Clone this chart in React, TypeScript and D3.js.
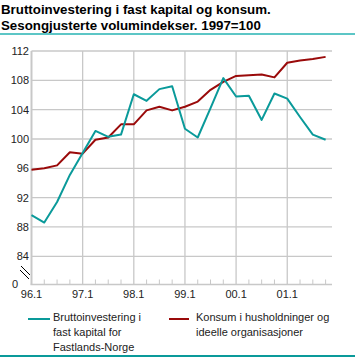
import React from "react";
import * as d3 from "d3";

const quarters = ["96.1","96.2","96.3","96.4","97.1","97.2","97.3","97.4","98.1","98.2","98.3","98.4","99.1","99.2","99.3","99.4","00.1","00.2","00.3","00.4","01.1","01.2","01.3","01.4"];
const investering = [89.6,88.6,91.4,95.1,98.1,101.1,100.3,100.6,106.1,105.2,106.8,107.2,101.4,100.2,104.2,108.3,105.8,105.9,102.6,106.2,105.5,103.0,100.6,99.9];
const konsum = [95.8,96.0,96.4,98.2,98.0,99.9,100.2,102.0,102.0,103.9,104.4,103.9,104.4,105.1,106.7,107.8,108.6,108.7,108.8,108.4,110.4,110.7,110.9,111.2];
const yTicks = [84,88,92,96,100,104,108,112];
const yearLabels = ["96.1","97.1","98.1","99.1","00.1","01.1"];
const seriesNames = [["Bruttoinvestering i","fast kapital for","Fastlands-Norge"],["Konsum i husholdninger og","ideelle organisasjoner"]];
const titleLines = ["Bruttoinvestering i fast kapital og konsum.","Sesongjusterte volumindekser. 1997=100"];

const TEAL = "#0a9a9a";
const RED = "#9a0a0a";
const GRID = "#c8c8c8";
const FONT = "'Liberation Sans', Arial, sans-serif";

export default function App() {
  const x = d3.scaleLinear().domain([0, 23.5]).range([31.5, 332]);
  const y = d3.scaleLinear().domain([84, 112]).range([256.3, 51]);
  const zeroY = 284.5;
  const line = d3.line<number>().x((_, i) => x(i)).y((v) => y(v));
  return (
    <svg width={355} height={357} style={{ position: "absolute", left: 0, top: 0 }} fontFamily={FONT}>
      {titleLines.map((t, i) => (
        <text key={i} x={1} y={14 + i * 16} fontSize={13.3} fontWeight="bold" fill="#000">{t}</text>
      ))}
      <line x1={0} x2={355} y1={34} y2={34} stroke="#5cc6c6" strokeWidth={2} />
      {yTicks.map((t) => (
        <g key={t}>
          <line x1={31.5} x2={332} y1={y(t)} y2={y(t)} stroke={GRID} strokeWidth={1.3} />
          <text x={29} y={y(t) + 4} fontSize={11} textAnchor="end" fill="#222">{t}</text>
        </g>
      ))}
      <text x={18} y={zeroY + 3} fontSize={11} textAnchor="end" fill="#222">0</text>
      {quarters.map((q, i) => {
        const major = q.endsWith(".1");
        return major ? (
          <line key={q} x1={x(i)} x2={x(i)} y1={51} y2={zeroY} stroke={GRID} strokeWidth={i === 0 ? 2 : 1.3} />
        ) : (
          <line key={q} x1={x(i)} x2={x(i)} y1={zeroY - 5} y2={zeroY} stroke={GRID} strokeWidth={1} />
        );
      })}
      <line x1={30.5} x2={332} y1={zeroY} y2={zeroY} stroke={GRID} strokeWidth={1.3} />
      <line x1={21} x2={30} y1={266} y2={275} stroke="#000" strokeWidth={1} />
      <line x1={20} x2={29} y1={270} y2={279} stroke="#000" strokeWidth={1} />
      {yearLabels.map((l) => {
        const i = quarters.indexOf(l);
        return <text key={l} x={x(i)} y={298} fontSize={11} textAnchor="middle" fill="#222">{l}</text>;
      })}
      <path d={line(konsum) || ""} fill="none" stroke={RED} strokeWidth={2} strokeLinejoin="round" />
      <path d={line(investering) || ""} fill="none" stroke={TEAL} strokeWidth={2} strokeLinejoin="round" />
      <line x1={28} x2={50} y1={319} y2={319} stroke={TEAL} strokeWidth={2} />
      {seriesNames[0].map((t, i) => (
        <text key={i} x={53} y={320.5 + i * 15.3} fontSize={11} fill="#222">{t}</text>
      ))}
      <line x1={169} x2={189} y1={319} y2={319} stroke={RED} strokeWidth={2} />
      {seriesNames[1].map((t, i) => (
        <text key={i} x={196} y={320.5 + i * 15.3} fontSize={11} fill="#222">{t}</text>
      ))}
      <line x1={0} x2={355} y1={356} y2={356} stroke={TEAL} strokeWidth={2} />
    </svg>
  );
}
